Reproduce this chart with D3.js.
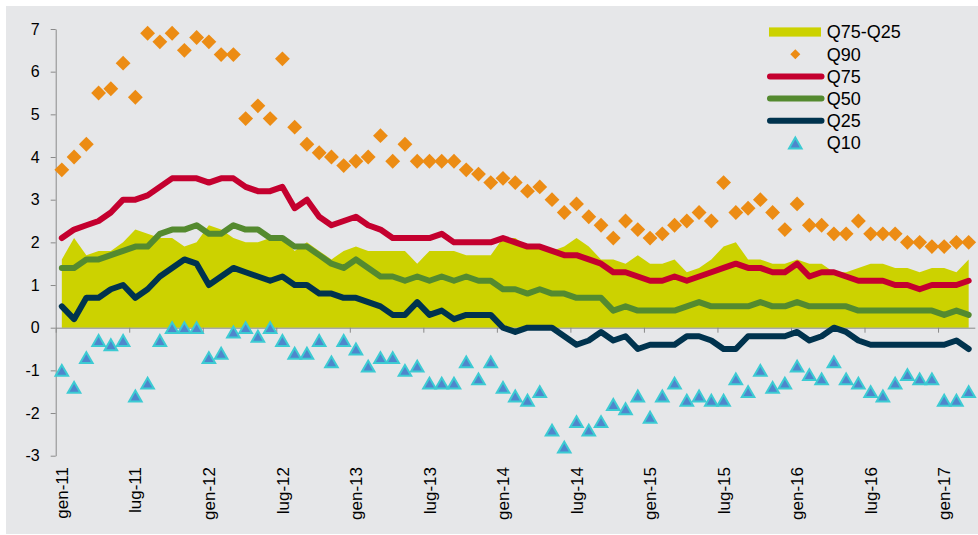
<!DOCTYPE html>
<html>
<head>
<meta charset="utf-8">
<script src="https://cdn.jsdelivr.net/npm/d3@7"></script>
<style>
  html, body { margin: 0; padding: 0; background: #ffffff; }
  svg { display: block; font-family: Arial, "Liberation Sans", Helvetica, sans-serif; }
</style>
</head>
<body>
<svg id="chart" width="978" height="535"></svg>
<script>
// Monthly categories, gen-11 .. mar-17
const monthNames = ["gen", "feb", "mar", "apr", "mag", "giu", "lug", "ago", "set", "ott", "nov", "dic"];
const firstYear = 11;
const monthCount = 75;
const categories = d3.range(monthCount).map(i => monthNames[i % 12] + "-" + (firstYear + Math.floor(i / 12)));
const tickLabels = ["gen-11", "lug-11", "gen-12", "lug-12", "gen-13", "lug-13", "gen-14",
                    "lug-14", "gen-15", "lug-15", "gen-16", "lug-16", "gen-17"];
const yTicks = [-3, -2, -1, 0, 1, 2, 3, 4, 5, 6, 7];

// Percentiles of the distribution, month by month
const q90 = [3.7, 4.0, 4.3, 5.5, 5.6, 6.2, 5.4, 6.9, 6.7, 6.9, 6.5, 6.8,
             6.7, 6.4, 6.4, 4.9, 5.2, 4.9, 6.3, 4.7, 4.3, 4.1, 4.0, 3.8,
             3.9, 4.0, 4.5, 3.9, 4.3, 3.9, 3.9, 3.9, 3.9, 3.7, 3.6, 3.4,
             3.5, 3.4, 3.2, 3.3, 3.0, 2.7, 2.9, 2.6, 2.4, 2.1, 2.5, 2.3,
             2.1, 2.2, 2.4, 2.5, 2.7, 2.5, 3.4, 2.7, 2.8, 3.0, 2.7, 2.3,
             2.9, 2.4, 2.4, 2.2, 2.2, 2.5, 2.2, 2.2, 2.2, 2.0, 2.0, 1.9,
             1.9, 2.0, 2.0];
const q75 = [2.1, 2.3, 2.4, 2.5, 2.7, 3.0, 3.0, 3.1, 3.3, 3.5, 3.5, 3.5,
             3.4, 3.5, 3.5, 3.3, 3.2, 3.2, 3.3, 2.8, 3.0, 2.6, 2.4, 2.5,
             2.6, 2.4, 2.3, 2.1, 2.1, 2.1, 2.1, 2.2, 2.0, 2.0, 2.0, 2.0,
             2.1, 2.0, 1.9, 1.9, 1.8, 1.7, 1.7, 1.6, 1.5, 1.3, 1.3, 1.2,
             1.1, 1.1, 1.2, 1.1, 1.2, 1.3, 1.4, 1.5, 1.4, 1.4, 1.3, 1.3,
             1.5, 1.2, 1.3, 1.3, 1.2, 1.1, 1.1, 1.1, 1.0, 1.0, 0.9, 1.0,
             1.0, 1.0, 1.1];
const q50 = [1.4, 1.4, 1.6, 1.6, 1.7, 1.8, 1.9, 1.9, 2.2, 2.3, 2.3, 2.4,
             2.2, 2.2, 2.4, 2.3, 2.3, 2.1, 2.1, 1.9, 1.9, 1.7, 1.5, 1.4,
             1.6, 1.4, 1.2, 1.2, 1.1, 1.2, 1.1, 1.2, 1.1, 1.2, 1.1, 1.1,
             0.9, 0.9, 0.8, 0.9, 0.8, 0.8, 0.7, 0.7, 0.7, 0.4, 0.5, 0.4,
             0.4, 0.4, 0.4, 0.5, 0.6, 0.5, 0.5, 0.5, 0.5, 0.6, 0.5, 0.5,
             0.6, 0.5, 0.5, 0.5, 0.5, 0.4, 0.4, 0.4, 0.4, 0.4, 0.4, 0.4,
             0.3, 0.4, 0.3];
const q25 = [0.5, 0.2, 0.7, 0.7, 0.9, 1.0, 0.7, 0.9, 1.2, 1.4, 1.6, 1.5,
             1.0, 1.2, 1.4, 1.3, 1.2, 1.1, 1.2, 1.0, 1.0, 0.8, 0.8, 0.7,
             0.7, 0.6, 0.5, 0.3, 0.3, 0.6, 0.3, 0.4, 0.2, 0.3, 0.3, 0.3,
             0.0, -0.1, 0.0, 0.0, 0.0, -0.2, -0.4, -0.3, -0.1, -0.3, -0.2, -0.5,
             -0.4, -0.4, -0.4, -0.2, -0.2, -0.3, -0.5, -0.5, -0.2, -0.2, -0.2, -0.2,
             -0.1, -0.3, -0.2, 0.0, -0.1, -0.3, -0.4, -0.4, -0.4, -0.4, -0.4, -0.4,
             -0.4, -0.3, -0.5];
const q10 = [-1.0, -1.4, -0.7, -0.3, -0.4, -0.3, -1.6, -1.3, -0.3, 0.0, 0.0, 0.0,
             -0.7, -0.6, -0.1, 0.0, -0.2, 0.0, -0.3, -0.6, -0.6, -0.3, -0.8, -0.3,
             -0.5, -0.9, -0.7, -0.7, -1.0, -0.9, -1.3, -1.3, -1.3, -0.8, -1.2, -0.8,
             -1.4, -1.6, -1.7, -1.5, -2.4, -2.8, -2.2, -2.4, -2.2, -1.8, -1.9, -1.6,
             -2.1, -1.6, -1.3, -1.7, -1.6, -1.7, -1.7, -1.2, -1.5, -1.0, -1.4, -1.3,
             -0.9, -1.1, -1.2, -0.8, -1.2, -1.3, -1.5, -1.6, -1.3, -1.1, -1.2, -1.2,
             -1.7, -1.7, -1.5];

const legendLabels = ["Q75-Q25", "Q90", "Q75", "Q50", "Q25", "Q10"];

const colors = {
  band: "#ccd200",
  q90: "#ec8c14",
  q75: "#c4002f",
  q50: "#548a2f",
  q25: "#00334e",
  q10Fill: "#4f86cc",
  q10Stroke: "#3ccbd3",
  axis: "#8a8a8a",
  panel: "#e6e7e9",
  text: "#000000"
};

const W = 978, H = 535;
const plot = { left: 55.7, right: 974.8, top: 29, bottom: 455.7 };

const svg = d3.select("#chart");

// panel background
svg.append("rect")
  .attr("x", 6).attr("y", 6)
  .attr("width", W - 6).attr("height", H - 7)
  .attr("fill", colors.panel);

const x = d3.scaleBand().domain(categories).range([plot.left, plot.right]).padding(0);
const cx = c => x(c) + x.bandwidth() / 2;
const y = d3.scaleLinear().domain([-3, 7]).range([plot.bottom, plot.top]);

// interquartile range, drawn from zero
const rows = categories.map((c, i) => ({ c, iqr: q75[i] - q25[i] }));
svg.append("path")
  .datum(rows)
  .attr("fill", colors.band)
  .attr("d", d3.area().x(d => cx(d.c)).y0(y(0)).y1(d => y(d.iqr)));

// y axis
const yAxis = svg.append("g")
  .attr("transform", `translate(${plot.left},0)`)
  .call(d3.axisLeft(y).tickValues(yTicks).tickSize(5).tickSizeOuter(0).tickPadding(11)
    .tickFormat(d => String(d)));
yAxis.select(".domain").attr("stroke", colors.axis);
yAxis.selectAll(".tick line").attr("stroke", colors.axis);
yAxis.selectAll(".tick text").attr("fill", colors.text).style("font-size", "16px")
  .attr("font-family", null);

// x axis along the zero line, ticks on month boundaries
const tickIdx = tickLabels.map(t => categories.indexOf(t));
const xEdge = d3.scaleLinear().domain([0, monthCount]).range([plot.left, plot.right]);
const xAxis = svg.append("g")
  .attr("transform", `translate(0,${y(0)})`)
  .call(d3.axisBottom(xEdge).tickValues(tickIdx).tickSize(5).tickSizeOuter(0).tickFormat(""));
xAxis.select(".domain").attr("stroke", colors.axis);
xAxis.selectAll(".tick line").attr("stroke", colors.axis);

// rotated month labels at the foot of the chart
svg.append("g").selectAll("text")
  .data(tickLabels)
  .join("text")
  .attr("transform", d => `translate(${cx(d)},467) rotate(-90)`)
  .attr("text-anchor", "end")
  .attr("dy", "0.36em")
  .attr("fill", colors.text)
  .style("font-size", "17px")
  .text(d => d);

// percentile lines
const line = d3.line().x((d, i) => cx(categories[i])).y(d => y(d));
[[q75, colors.q75], [q50, colors.q50], [q25, colors.q25]].forEach(([series, col]) => {
  svg.append("path")
    .datum(series)
    .attr("fill", "none")
    .attr("stroke", col)
    .attr("stroke-width", 6)
    .attr("stroke-linejoin", "round")
    .attr("stroke-linecap", "round")
    .attr("d", line);
});

// Q10 triangles
const triSize = 68;
const triH = Math.sqrt(triSize * 4 / Math.sqrt(3)) * Math.sqrt(3) / 2;
const tri = d3.symbol().type(d3.symbolTriangle).size(triSize);
svg.append("g").selectAll("path")
  .data(q10)
  .join("path")
  .attr("transform", (d, i) => `translate(${cx(categories[i])},${y(d) + triH / 6})`)
  .attr("d", tri)
  .attr("fill", colors.q10Fill)
  .attr("stroke", colors.q10Stroke)
  .attr("stroke-width", 2);

// Q90 diamonds
const diamond = d3.symbol().type(d3.symbolSquare).size(110);
svg.append("g").selectAll("path")
  .data(q90)
  .join("path")
  .attr("transform", (d, i) => `translate(${cx(categories[i])},${y(d)}) rotate(45)`)
  .attr("d", diamond)
  .attr("fill", colors.q90);

// legend
const lg = svg.append("g");
const rowY = i => 32 + i * 22.2;
const swatchX0 = 769, swatchX1 = 821, textX = 826.7, markX = 795.3;

lg.append("rect")
  .attr("x", swatchX0).attr("y", rowY(0) - 4.6)
  .attr("width", swatchX1 - swatchX0).attr("height", 9.2)
  .attr("fill", colors.band);

lg.append("path")
  .attr("transform", `translate(${markX},${rowY(1)}) rotate(45)`)
  .attr("d", d3.symbol().type(d3.symbolSquare).size(50)())
  .attr("fill", colors.q90);

[[2, colors.q75], [3, colors.q50], [4, colors.q25]].forEach(([r, col]) => {
  lg.append("line")
    .attr("x1", swatchX0 + 1).attr("x2", swatchX1 + 0.5)
    .attr("y1", rowY(r)).attr("y2", rowY(r))
    .attr("stroke", col)
    .attr("stroke-width", 6)
    .attr("stroke-linecap", "round");
});

lg.append("path")
  .attr("transform", `translate(${markX},${rowY(5) + triH / 6})`)
  .attr("d", tri)
  .attr("fill", colors.q10Fill)
  .attr("stroke", colors.q10Stroke)
  .attr("stroke-width", 2);

lg.selectAll("text")
  .data(legendLabels)
  .join("text")
  .attr("x", textX)
  .attr("y", (d, i) => rowY(i))
  .attr("dy", "0.36em")
  .attr("fill", colors.text)
  .style("font-size", "18px")
  .text(d => d);
</script>
</body>
</html>
